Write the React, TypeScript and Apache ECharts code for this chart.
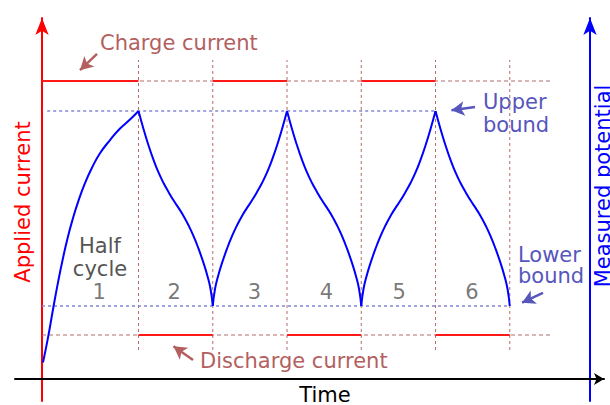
import React, { useEffect, useRef } from "react";
import * as echarts from "echarts";

// ---- Data (time in half-cycle units, current normalised, potential normalised: lower bound 0, upper bound 1)
const HALF_CYCLE_ENDS = [1.3, 2.3, 3.3, 4.3, 5.3, 6.3];
const HALF_CYCLE_LABELS = ["1", "2", "3", "4", "5", "6"];
const HALF_CYCLE_LABEL_X = [0.77, 1.78, 2.86, 3.83, 4.81, 5.79];
const HALF_CYCLE_LABEL_Y = 0.072;

const CHARGE_CURRENT = 1;
const DISCHARGE_CURRENT = -1;
// [start, end, current]
const CURRENT_PHASES: [number, number, number][] = [
  [0, 1.3, CHARGE_CURRENT],
  [1.3, 2.3, DISCHARGE_CURRENT],
  [2.3, 3.3, CHARGE_CURRENT],
  [3.3, 4.3, DISCHARGE_CURRENT],
  [4.3, 5.3, CHARGE_CURRENT],
  [5.3, 6.3, DISCHARGE_CURRENT],
];
const LEVEL_GUIDE_END = 6.88;

const UPPER_BOUND = 1;
const LOWER_BOUND = 0;
const UPPER_BOUND_SPAN = [0.07, 5.3];
const LOWER_BOUND_SPAN = [0, 6.3];
const BOUNDARY_SPAN = [-0.2256, 1.2615]; // vertical guide extent (potential units)

const POTENTIAL_1 = [[0.013, -0.29], [0.081, -0.162], [0.148, -0.018], [0.215, 0.12], [0.283, 0.246], [0.35, 0.356], [0.418, 0.451], [0.485, 0.533], [0.579, 0.63], [0.673, 0.709], [0.781, 0.783], [0.916, 0.851], [1.051, 0.91], [1.185, 0.956], [1.3, 1.0]];
const POTENTIAL_2 = [[1.3, 1.0], [1.367, 0.908], [1.435, 0.823], [1.502, 0.749], [1.569, 0.685], [1.637, 0.631], [1.704, 0.585], [1.771, 0.542], [1.839, 0.503], [1.906, 0.462], [1.973, 0.414], [2.041, 0.358], [2.108, 0.294], [2.175, 0.221], [2.229, 0.153], [2.27, 0.087], [2.3, 0.0]];
const POTENTIAL_3 = [[2.3, 0.0], [2.33, 0.087], [2.371, 0.153], [2.425, 0.221], [2.492, 0.294], [2.559, 0.358], [2.627, 0.414], [2.694, 0.462], [2.761, 0.503], [2.829, 0.542], [2.896, 0.585], [2.963, 0.631], [3.031, 0.685], [3.098, 0.749], [3.165, 0.823], [3.233, 0.908], [3.3, 1.0]];
const POTENTIAL_4 = [[3.3, 1.0], [3.367, 0.908], [3.435, 0.823], [3.502, 0.749], [3.569, 0.685], [3.637, 0.631], [3.704, 0.585], [3.771, 0.542], [3.839, 0.503], [3.906, 0.462], [3.973, 0.414], [4.041, 0.358], [4.108, 0.294], [4.175, 0.221], [4.229, 0.153], [4.27, 0.087], [4.3, 0.0]];
const POTENTIAL_5 = [[4.3, 0.0], [4.33, 0.087], [4.371, 0.153], [4.425, 0.221], [4.492, 0.294], [4.559, 0.358], [4.627, 0.414], [4.694, 0.462], [4.761, 0.503], [4.829, 0.542], [4.896, 0.585], [4.963, 0.631], [5.031, 0.685], [5.098, 0.749], [5.165, 0.823], [5.233, 0.908], [5.3, 1.0]];
const POTENTIAL_6 = [[5.3, 1.0], [5.367, 0.908], [5.435, 0.823], [5.502, 0.749], [5.569, 0.685], [5.637, 0.631], [5.704, 0.585], [5.771, 0.542], [5.839, 0.503], [5.906, 0.462], [5.973, 0.414], [6.041, 0.358], [6.108, 0.294], [6.175, 0.221], [6.229, 0.153], [6.27, 0.087], [6.3, 0.0]];
const POTENTIAL_SEGMENTS = [POTENTIAL_1, POTENTIAL_2, POTENTIAL_3, POTENTIAL_4, POTENTIAL_5, POTENTIAL_6];

// annotation arrows: [tail, head]
const CHARGE_ARROW = [[0.741, 1.213], [0.512, 1.085]];
const DISCHARGE_ARROW = [[2.034, -1.197], [1.771, -1.088]];
const UPPER_ARROW = [[5.832, 1.021], [5.514, 1.004]];
const LOWER_ARROW = [[6.747, 0.067], [6.465, 0.017]];

const FONT = "DejaVu Sans";
const BROWN = "#b35f5f";
const SLATE = "#5656bd";

export default function App() {
  const ref = useRef<HTMLDivElement>(null);

  useEffect(() => {
    if (!ref.current) return;
    const chart = echarts.init(ref.current, null, { renderer: "svg" });

    const withBreaks = (segs: number[][][]) => {
      const out: any[] = [];
      segs.forEach((s, i) => {
        if (i > 0) out.push([s[0][0], "-"]);
        s.forEach((p) => out.push(p));
      });
      return out;
    };

    const levelGuides = withBreaks([
      [[0, CHARGE_CURRENT], [LEVEL_GUIDE_END, CHARGE_CURRENT]],
      [[0, DISCHARGE_CURRENT], [LEVEL_GUIDE_END, DISCHARGE_CURRENT]],
    ]);
    const currentSteps = withBreaks(CURRENT_PHASES.map(([a, b, c]) => [[a, c], [b, c]]));
    const boundaries = withBreaks(HALF_CYCLE_ENDS.map((t) => [[t, BOUNDARY_SPAN[0]], [t, BOUNDARY_SPAN[1]]]));
    const bounds = withBreaks([
      [[UPPER_BOUND_SPAN[0], UPPER_BOUND], [UPPER_BOUND_SPAN[1], UPPER_BOUND]],
      [[LOWER_BOUND_SPAN[0], LOWER_BOUND], [LOWER_BOUND_SPAN[1], LOWER_BOUND]],
    ]);

    const arrowLine = (a: number[][], color: string) => [
      { coord: a[0], symbol: "none" },
      { coord: a[1], symbol: "arrow", symbolSize: [11, 13], lineStyle: { color } },
    ];

    const hiddenAxisParts = {
      axisTick: { show: false },
      axisLabel: { show: false },
      splitLine: { show: false },
    };

    const option: any = {
      animation: false,
      backgroundColor: "#ffffff",
      grid: [
        { left: 42, right: 20, top: 18, bottom: 4 },
        { left: 15, right: 6, top: 378, height: 1 },
      ],
      xAxis: [
        { type: "value", gridIndex: 0, min: 0, max: 7.3805, show: false },
        {
          type: "value",
          gridIndex: 1,
          min: 0,
          max: 1,
          position: "bottom",
          axisLine: {
            show: true,
            onZero: false,
            symbol: ["none", "arrow"],
            symbolSize: [9, 10],
            lineStyle: { color: "#000000", width: 2 },
          },
          ...hiddenAxisParts,
        },
      ],
      yAxis: [
        {
          type: "value",
          gridIndex: 0,
          position: "left",
          min: -1.5197,
          max: 1.4961,
          axisLine: {
            show: true,
            onZero: false,
            symbol: ["none", "arrow"],
            symbolSize: [10, 17],
            lineStyle: { color: "#ff0000", width: 2 },
          },
          ...hiddenAxisParts,
        },
        {
          type: "value",
          gridIndex: 0,
          position: "right",
          min: -0.4872,
          max: 1.4769,
          axisLine: {
            show: true,
            onZero: false,
            symbol: ["none", "arrow"],
            symbolSize: [10, 17],
            lineStyle: { color: "#0000ff", width: 2 },
          },
          ...hiddenAxisParts,
        },
        { type: "value", gridIndex: 1, min: 0, max: 1, show: false },
      ],
      series: [
        {
          name: "Current levels",
          type: "line",
          xAxisIndex: 0,
          yAxisIndex: 0,
          data: levelGuides,
          showSymbol: false,
          symbol: "none",
          silent: true,
          lineStyle: { color: "#b56a6a", width: 1, type: [4, 3] },
          markLine: {
            silent: true,
            animation: false,
            label: { show: false },
            lineStyle: { color: BROWN, width: 2.5, type: "solid" },
            data: [arrowLine(CHARGE_ARROW, BROWN), arrowLine(DISCHARGE_ARROW, BROWN)],
          },
        },
        {
          name: "Half-cycle boundaries",
          type: "line",
          xAxisIndex: 0,
          yAxisIndex: 1,
          data: boundaries,
          showSymbol: false,
          symbol: "none",
          silent: true,
          lineStyle: { color: "#b56a6a", width: 1, type: [3, 3] },
        },
        {
          name: "Potential bounds",
          type: "line",
          xAxisIndex: 0,
          yAxisIndex: 1,
          data: bounds,
          showSymbol: false,
          symbol: "none",
          silent: true,
          lineStyle: { color: "#8585d6", width: 1.3, type: [3, 3] },
          markLine: {
            silent: true,
            animation: false,
            label: { show: false },
            lineStyle: { color: SLATE, width: 2.5, type: "solid" },
            data: [arrowLine(UPPER_ARROW, SLATE), arrowLine(LOWER_ARROW, SLATE)],
          },
        },
        {
          name: "Applied current",
          type: "line",
          xAxisIndex: 0,
          yAxisIndex: 0,
          data: currentSteps,
          showSymbol: false,
          symbol: "none",
          silent: true,
          lineStyle: { color: "#ff1a1a", width: 2 },
        },
        ...POTENTIAL_SEGMENTS.map((seg, i) => ({
          name: "Measured potential " + (i + 1),
          type: "line",
          xAxisIndex: 0,
          yAxisIndex: 1,
          data: seg,
          smooth: 0.5,
          showSymbol: false,
          symbol: "none",
          silent: true,
          lineStyle: { color: "#0000ff", width: 2 },
        })),
        {
          name: "Half-cycle numbers",
          type: "scatter",
          xAxisIndex: 0,
          yAxisIndex: 1,
          symbolSize: 1,
          itemStyle: { color: "rgba(0,0,0,0)" },
          silent: true,
          data: HALF_CYCLE_LABEL_X.map((x, i) => ({ value: [x, HALF_CYCLE_LABEL_Y], name: HALF_CYCLE_LABELS[i] })),
          label: {
            show: true,
            position: "inside",
            formatter: (p: any) => p.name,
            color: "#555555",
            fontFamily: FONT,
            fontSize: 21,
          },
        },
      ],
      graphic: [
        { type: "text", x: 100, y: 43, style: { text: "Charge current", fill: BROWN, font: `21px "${FONT}"`, textAlign: "left", textVerticalAlign: "middle" } },
        { type: "text", x: 200, y: 361, style: { text: "Discharge current", fill: BROWN, font: `21px "${FONT}"`, textAlign: "left", textVerticalAlign: "middle" } },
        { type: "text", x: 483, y: 102, style: { text: "Upper", fill: SLATE, font: `21px "${FONT}"`, textAlign: "left", textVerticalAlign: "middle" } },
        { type: "text", x: 483, y: 125, style: { text: "bound", fill: SLATE, font: `21px "${FONT}"`, textAlign: "left", textVerticalAlign: "middle" } },
        { type: "text", x: 518, y: 255, style: { text: "Lower", fill: SLATE, font: `21px "${FONT}"`, textAlign: "left", textVerticalAlign: "middle" } },
        { type: "text", x: 518, y: 276, style: { text: "bound", fill: SLATE, font: `21px "${FONT}"`, textAlign: "left", textVerticalAlign: "middle" } },
        { type: "text", x: 100, y: 246, style: { text: "Half", fill: "#555555", font: `21px "${FONT}"`, textAlign: "center", textVerticalAlign: "middle" } },
        { type: "text", x: 100, y: 269, style: { text: "cycle", fill: "#555555", font: `21px "${FONT}"`, textAlign: "center", textVerticalAlign: "middle" } },
        { type: "text", x: 325, y: 395, style: { text: "Time", fill: "#000000", font: `21px "${FONT}"`, textAlign: "center", textVerticalAlign: "middle" } },
        { type: "text", x: 23, y: 202, rotation: Math.PI / 2, style: { text: "Applied current", fill: "#ff0000", font: `21px "${FONT}"`, textAlign: "center", textVerticalAlign: "middle" } },
        { type: "text", x: 603, y: 186, rotation: Math.PI / 2, style: { text: "Measured potential", fill: "#0000ff", font: `21px "${FONT}"`, textAlign: "center", textVerticalAlign: "middle" } },
      ],
    };

    chart.setOption(option);
    return () => chart.dispose();
  }, []);

  return (
    <div
      ref={ref}
      style={{ position: "fixed", left: 0, top: 0, width: 610, height: 405, background: "#ffffff" }}
    />
  );
}
